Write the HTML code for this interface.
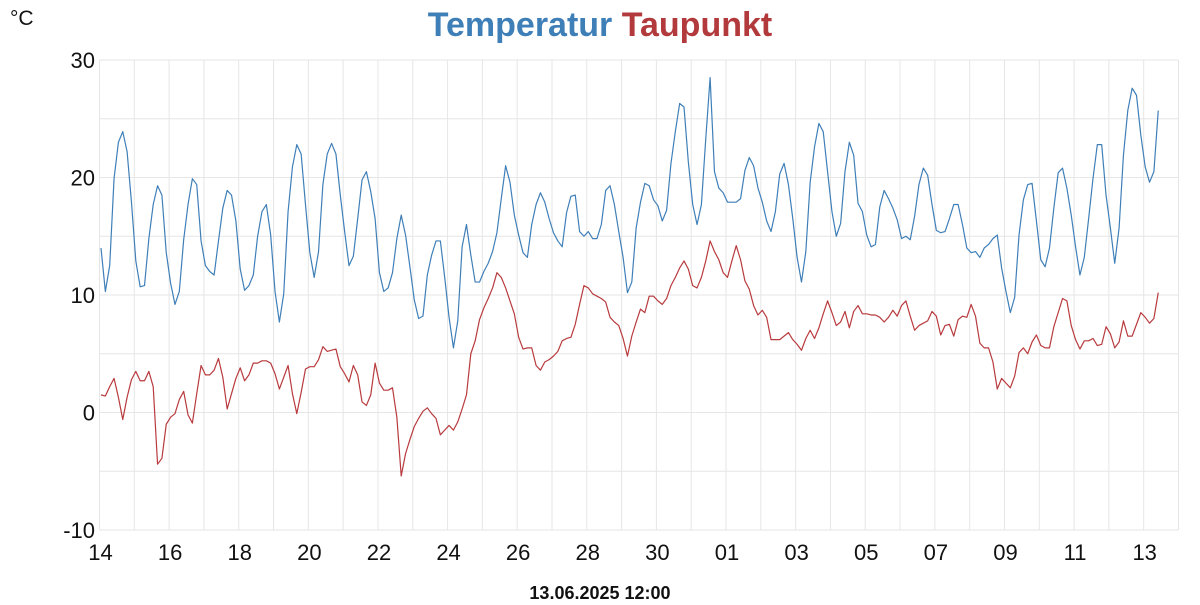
<!DOCTYPE html>
<html><head><meta charset="utf-8"><style>
body{margin:0;background:#fff;width:1200px;height:600px;overflow:hidden;font-family:"Liberation Sans",sans-serif}
</style></head><body>
<svg id="chart" width="1200" height="600" xmlns="http://www.w3.org/2000/svg">
<text x="600" y="36" text-anchor="middle" font-size="34" font-weight="bold" font-family="Liberation Sans, sans-serif"><tspan fill="#3f7fb8">Temperatur</tspan> <tspan fill="#b23a3c">Taupunkt</tspan></text>
<text x="10" y="25" font-size="21" fill="#111">°C</text>
<text x="600" y="599" text-anchor="middle" font-size="18" font-weight="bold" fill="#111">13.06.2025 12:00</text>
<g id="grid"></g><g id="axes"></g><g id="series"></g>
</svg>
<script>
const temperature=[14.0,10.3,12.5,19.9,23.0,23.9,22.2,17.9,12.9,10.7,10.8,14.8,17.7,19.3,18.5,13.6,11.0,9.2,10.3,14.7,17.7,19.9,19.4,14.6,12.5,12.0,11.7,14.6,17.4,18.9,18.5,16.3,12.2,10.4,10.8,11.7,15.0,17.1,17.7,
15.1,10.3,7.7,10.1,17.1,20.9,22.8,22.0,17.7,13.6,11.5,13.7,19.4,22.0,22.9,22.0,18.5,15.4,12.5,13.3,16.5,19.8,20.5,18.8,16.5,11.9,10.3,10.6,11.9,14.8,16.8,15.1,12.4,9.6,8.0,8.2,11.7,13.4,14.6,
14.6,11.5,8.1,5.5,7.8,14.1,16.0,13.4,11.1,11.1,12.0,12.7,13.7,15.3,18.2,21.0,19.6,16.8,15.1,13.6,13.2,16.0,17.7,18.7,17.9,16.5,15.3,14.6,14.1,17.0,18.4,18.5,15.4,15.0,15.4,14.8,14.8,
16.0,18.9,19.3,17.7,15.4,13.2,10.2,11.1,15.7,17.9,19.5,19.3,18.1,17.6,16.3,17.2,21.2,23.9,26.3,26.0,21.3,17.7,16.0,17.7,23.3,28.5,20.5,19.1,18.7,17.9,17.9,17.9,18.2,20.6,21.7,21.0,19.1,17.9,16.3,15.4,17.1,20.3,
21.2,19.4,16.5,13.2,11.1,13.7,19.6,22.6,24.6,23.9,20.5,17.1,15.0,16.1,20.5,23.0,21.9,17.8,17.1,15.1,14.1,14.3,17.5,18.9,18.2,17.4,16.4,14.8,15.0,14.7,16.7,19.4,20.8,20.2,17.7,15.5,15.3,15.4,16.5,17.7,17.7,
16.0,14.0,13.6,13.7,13.2,14.0,14.3,14.8,15.1,12.3,10.3,8.5,9.8,15.1,18.1,19.4,19.5,16.3,13.0,12.4,14.0,17.4,20.4,20.8,19.1,16.8,14.1,11.7,13.2,16.5,19.9,22.8,22.8,18.5,15.7,12.7,15.7,21.9,25.7,27.6,27.0,23.6,20.9,19.6,20.5,25.7];
const dewpoint=[1.5,1.4,2.2,2.9,1.3,-0.6,1.3,2.8,3.5,2.7,2.7,3.5,2.2,-4.4,-3.9,-1.0,-0.4,-0.1,1.1,1.8,-0.2,-0.9,1.6,4.0,3.2,3.2,3.6,4.6,3.0,0.3,1.6,2.9,3.8,2.7,3.2,4.2,4.2,4.4,4.4,
4.2,3.3,2.0,3.0,4.0,1.6,-0.1,1.7,3.7,3.9,3.9,4.5,5.6,5.2,5.3,5.4,3.9,3.3,2.6,4.0,3.2,0.9,0.6,1.5,4.2,2.5,1.9,1.9,2.1,-0.4,-5.4,-3.5,-2.3,-1.2,-0.5,0.1,0.4,-0.1,-0.5,
-1.9,-1.5,-1.1,-1.5,-0.8,0.3,1.5,5.0,6.1,7.9,8.9,9.7,10.6,11.9,11.5,10.6,9.5,8.4,6.4,5.4,5.5,5.5,4.0,3.6,4.3,4.5,4.8,5.2,6.1,6.3,6.4,7.5,9.2,10.8,10.6,10.1,9.9,
9.7,9.4,8.1,7.7,7.4,6.3,4.8,6.5,7.7,8.8,8.5,9.9,9.9,9.5,9.2,9.7,10.8,11.5,12.3,12.9,12.2,10.8,10.6,11.5,12.9,14.6,13.7,13.0,11.9,11.5,12.9,14.2,13.0,11.2,10.5,9.1,8.3,8.7,8.1,6.2,6.2,6.2,
6.5,6.8,6.2,5.8,5.3,6.3,7.0,6.3,7.2,8.4,9.5,8.5,7.4,7.7,8.6,7.2,8.6,9.1,8.4,8.4,8.3,8.3,8.1,7.7,8.1,8.7,8.2,9.1,9.5,8.2,7.0,7.4,7.6,7.8,8.6,8.2,6.6,7.4,7.5,6.5,7.9,
8.2,8.1,9.2,8.2,5.9,5.5,5.5,4.3,2.0,2.9,2.5,2.1,3.1,5.1,5.5,5.0,6.0,6.6,5.7,5.5,5.5,7.3,8.5,9.7,9.5,7.4,6.2,5.4,6.1,6.1,6.3,5.7,5.8,7.3,6.7,5.5,6.0,7.8,6.5,6.5,7.5,8.5,8.1,7.6,8.0,10.2];
const yTicks=[30,20,10,0,-10];
const xTickLabels=["14","16","18","20","22","24","26","28","30","01","03","05","07","09","11","13"];
const NS="http://www.w3.org/2000/svg";
const L=99.5,R=1178.5,T=60,B=530,YMIN=-10,YMAX=30;
const gridCount=31, stepsPerGrid=8, firstOffset=1.5;
function yScale(v){return B-(v-YMIN)/(YMAX-YMIN)*(B-T);}
function gridX(k){return L+k*(R-L)/gridCount;}
function xScale(i){return L+firstOffset+i*(R-L)/gridCount/stepsPerGrid;}
function mk(tag,attrs,parent){const e=document.createElementNS(NS,tag);for(const k in attrs)e.setAttribute(k,attrs[k]);parent.appendChild(e);return e;}
const grid=document.getElementById('grid'),axes=document.getElementById('axes'),series=document.getElementById('series');
for(let v=YMIN;v<=YMAX;v+=5){
  const l=mk('line',{x1:L,x2:R,y1:yScale(v),y2:yScale(v),stroke:'#e6e6e6','stroke-width':1},grid);
  
  
}
for(let k=0;k<=gridCount;k++){
  const l=mk('line',{x1:gridX(k),x2:gridX(k),y1:T,y2:B,stroke:'#e6e6e6','stroke-width':1},grid);
  
  
}
yTicks.forEach(v=>{
  const t=mk('text',{x:95,y:yScale(v)+8,'text-anchor':'end','font-size':22,fill:'#111'},axes);
  t.textContent=String(v);
  
  
});
xTickLabels.forEach((s,j)=>{
  const t=mk('text',{x:gridX(j*2)+1,y:560,'text-anchor':'middle','font-size':22,fill:'#111'},axes);
  t.textContent=s;
  
  
});
function line(data,color,name){
  const d=data.map((v,i)=>(i?'L':'M')+xScale(i).toFixed(2)+' '+yScale(v).toFixed(2)).join(' ');
  const p=mk('path',{d:d,fill:'none',stroke:color,'stroke-width':1.2,'stroke-linejoin':'round'},series);
  
  
}
line(dewpoint,'#b83a3d','dewpoint-line');
line(temperature,'#3f7fb8','temperature-line');
</script>
</body></html>
